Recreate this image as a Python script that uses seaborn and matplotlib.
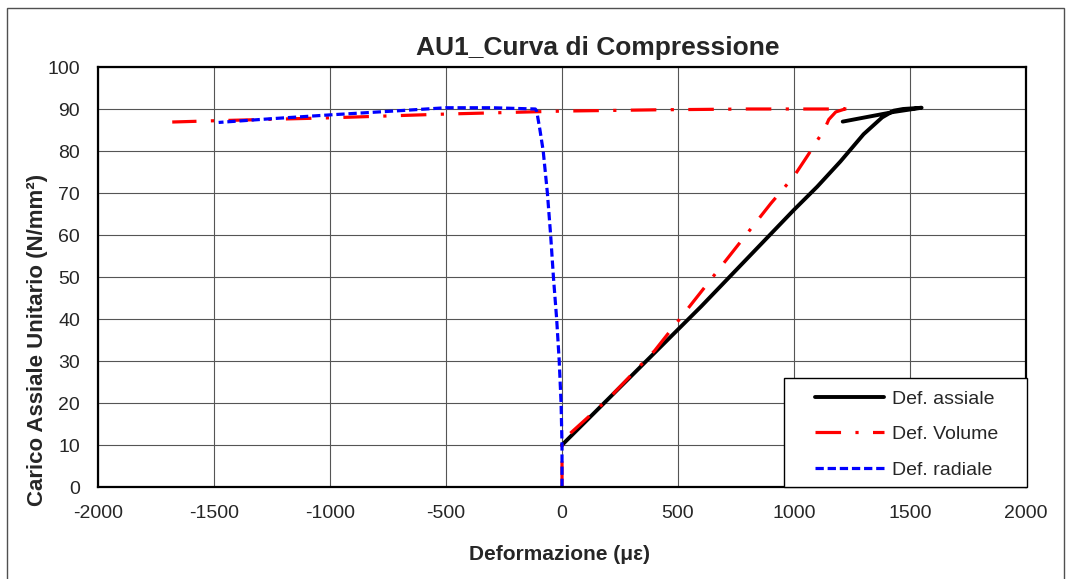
import matplotlib
matplotlib.use("Agg")
import matplotlib.pyplot as plt
import seaborn as sns
import pandas as pd
from matplotlib.patches import Rectangle

# Strain readings (microstrain) and axial stress (N/mm²)
axial_strain = [0, 200, 400, 600, 800, 1000, 1100, 1200, 1300, 1380, 1430, 1470, 1550, 1430, 1210]
axial_stress = [10, 21, 32, 43, 54.5, 66, 71.5, 77.5, 84, 88, 89.6, 90, 90.3, 89.3, 87]

volume_strain = [0, 0, 200, 400, 500, 600, 700, 800, 900, 1000, 1060, 1100, 1130, 1150, 1180, 1220, 1254,
                 800, 400, 0, -500, -1000, -1500, -1680]
volume_stress = [0, 11, 21, 32.5, 39.5, 46.5, 53.5, 60.5, 67.5, 74, 79, 82.5, 85, 87.5, 89.3, 90, 90,
                 90, 89.8, 89.5, 88.8, 87.9, 87.2, 86.9]

radial_strain = [0, 0, -4, -12, -23, -37, -49, -63, -81, -95, -109, -115, -300, -500, -700, -1000, -1250, -1480]
radial_stress = [0, 10, 20, 30, 40, 50, 60, 70, 80, 85, 89.5, 90, 90.3, 90.3, 89.6, 88.6, 87.7, 86.8]

series_names = ["Def. assiale", "Def. Volume", "Def. radiale"]
x_ticks = [-2000, -1500, -1000, -500, 0, 500, 1000, 1500, 2000]
y_ticks = [0, 10, 20, 30, 40, 50, 60, 70, 80, 90, 100]

sns.set_style("white")
plt.rcParams["font.family"] = ["Liberation Sans", "DejaVu Sans"]
plt.rcParams["axes.unicode_minus"] = False

W, H = 1067, 579
fig = plt.figure(figsize=(W / 100, H / 100), dpi=100)
ax = fig.add_axes([98 / W, 1 - 487 / H, 928 / W, 420 / H])

# outer chart frame
fig.patches.append(Rectangle((7 / W, -0.02), 1057 / W, 1 - 8 / H + 0.02, transform=fig.transFigure,
                             fill=False, edgecolor="#505050", linewidth=1.0, zorder=0))

frames = [
    pd.DataFrame({"x": axial_strain, "y": axial_stress}),
    pd.DataFrame({"x": volume_strain, "y": volume_stress}),
    pd.DataFrame({"x": radial_strain, "y": radial_stress}),
]
styles = [
    dict(color="black", linewidth=2.8, linestyle="-"),
    dict(color="#FF0000", linewidth=2.3, linestyle=(0, (8, 4.5, 1, 4.5))),
    dict(color="#0000FF", linewidth=2.3, linestyle=(0, (2.6, 1.2))),
]
for df, name, st in zip(frames, series_names, styles):
    sns.lineplot(data=df, x="x", y="y", sort=False, estimator=None, ax=ax, label=name, **st)

ax.set_xlim(-2000, 2000)
ax.set_ylim(0, 100)
ax.set_xticks(x_ticks)
ax.set_yticks(y_ticks)
ax.tick_params(axis="both", length=0, labelsize=14, pad=13)
ax.grid(True, color="#555555", linewidth=0.8)
ax.set_axisbelow(True)
for sp in ax.spines.values():
    sp.set_color("black")
    sp.set_linewidth(1.6)

ax.set_title("AU1_Curva di Compressione", fontsize=19, fontweight="bold", x=0.538, y=1.008)
ax.set_xlabel("Deformazione (με)", fontsize=15, fontweight="bold")
ax.set_ylabel("Carico Assiale Unitario (N/mm²)", fontsize=16, fontweight="bold")
ax.xaxis.set_label_coords(0.497, -0.138)
ax.yaxis.set_label_coords(-0.054, 0.35)

ax.legend_.remove()
handles, labels = ax.get_legend_handles_labels()

# legend box drawn as its own rectangle, entries placed inside it
fig.patches.append(Rectangle((784 / W, 1 - 487 / H), 243 / W, 109 / H, transform=fig.transFigure,
                             facecolor="white", edgecolor="black", linewidth=1.0, zorder=5))
leg = fig.legend(handles, labels, loc="upper left", bbox_to_anchor=(815 / W, 1 - 390 / H),
                 borderaxespad=0, borderpad=0, fontsize=14, frameon=False,
                 handlelength=3.55, labelspacing=0.92, handletextpad=0.41)
leg.set_zorder(6)

fig.savefig("out.png", dpi=100)
